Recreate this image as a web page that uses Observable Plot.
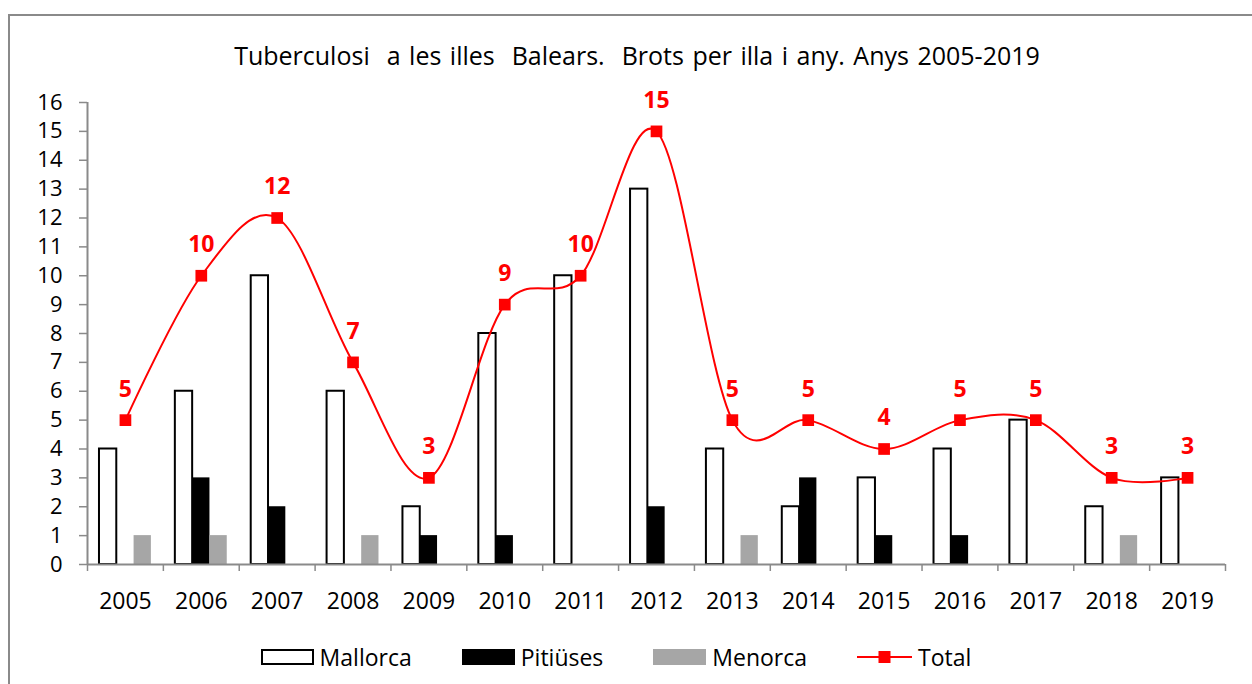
<!DOCTYPE html>
<html>
<head>
<meta charset="utf-8">
<script src="https://cdn.jsdelivr.net/npm/d3@7"></script>
<script src="https://cdn.jsdelivr.net/npm/@observablehq/plot@0.6"></script>
<style>
  body { margin: 0; background: #fff; }
  #wrap { position: relative; width: 1252px; height: 684px; overflow: hidden; background: #fff; font-family: 'Open Sans', sans-serif; color: #000; }
  #border { position: absolute; left: 8px; top: 14px; width: 1400px; height: 800px; border: 2px solid #8a8a8a; }
  #title { position: absolute; left: 0; top: 40px; width: 1274px; text-align: center; font-size: 25px; line-height: 30px; word-spacing: 2px; white-space: pre; }
  #chart { position: absolute; left: 0; top: 80px; }
  #legend { position: absolute; left: 0; top: 642px; width: 1232px; display: flex; justify-content: center; align-items: center; font-size: 23px; line-height: 30px; }
  .item { display: flex; align-items: center; margin: 0 25px; }
  .sw { width: 53px; height: 16px; box-sizing: border-box; margin-right: 6px; }
</style>
</head>
<body>
<div id="wrap">
  <div id="border"></div>
  <div id="title">Tuberculosi  a les illes  Balears.  Brots per illa i any. Anys 2005-2019</div>
  <div id="chart"></div>
  <div id="legend"></div>
</div>
<script>
const years = ["2005","2006","2007","2008","2009","2010","2011","2012","2013","2014","2015","2016","2017","2018","2019"];
const mallorca = [4, 6, 10, 6, 2, 8, 10, 13, 4, 2, 3, 4, 5, 2, 3];
const pitiuses = [0, 3, 2, 0, 1, 1, 0, 2, 0, 3, 1, 1, 0, 0, 0];
const menorca  = [1, 1, 0, 1, 0, 0, 0, 0, 1, 0, 0, 0, 0, 1, 0];
const total    = [5, 10, 12, 7, 3, 9, 10, 15, 5, 5, 4, 5, 5, 3, 3];
const seriesNames = ["Mallorca", "Pitiüses", "Menorca", "Total"];
const seriesColors = ["#ffffff", "#000000", "#a6a6a6", "#ff0000"];
const yTicks = [0, 1, 2, 3, 4, 5, 6, 7, 8, 9, 10, 11, 12, 13, 14, 15, 16];

const rows = years.map((y, i) => ({year: y, mallorca: mallorca[i], pitiuses: pitiuses[i], menorca: menorca[i], total: total[i]}));

const W = 1252, H = 532, mL = 87, mR = 27, mT = 22, mB = 48;
const bw = (W - mL - mR) / years.length;
const gw = 17.3;
const inset = (o) => ({insetLeft: bw / 2 + o - gw / 2, insetRight: bw / 2 - o - gw / 2});
const axisGray = "#8a8a8a";

const chart = Plot.plot({
  width: W, height: H,
  marginLeft: mL, marginRight: mR, marginTop: mT, marginBottom: mB,
  x: {type: "band", domain: years, padding: 0, round: false, label: null},
  y: {domain: [0, 16], label: null},
  style: {fontFamily: "'Open Sans', sans-serif", fontSize: "23px", color: "#000", background: "transparent", overflow: "visible"},
  marks: [
    Plot.barY(rows, {x: "year", y: "mallorca", fill: seriesColors[0], stroke: "#000", strokeWidth: 2, ...inset(-gw)}),
    Plot.barY(rows, {x: "year", y: "pitiuses", fill: seriesColors[1], ...inset(0)}),
    Plot.barY(rows, {x: "year", y: "menorca", fill: seriesColors[2], ...inset(gw)}),
    Plot.ruleY([0], {stroke: axisGray, strokeWidth: 2}),
    Plot.ruleX([years[0]], {stroke: axisGray, strokeWidth: 2, dx: -bw / 2}),
    Plot.axisY({ticks: yTicks, tickSize: 8, tickPadding: 17, stroke: axisGray, strokeWidth: 1.5, fill: "#000", fontSize: 22}),
    Plot.axisX({tickSize: 7, dx: -bw / 2, tickFormat: () => "", stroke: axisGray, strokeWidth: 1.5}),
    Plot.axisX({ticks: [years[years.length - 1]], tickSize: 7, dx: bw / 2, tickFormat: () => "", stroke: axisGray, strokeWidth: 1.5}),
    Plot.axisX({tickSize: 0, tickPadding: 28, fill: "#000"}),
    Plot.line(rows, {x: "year", y: "total", stroke: seriesColors[3], strokeWidth: 2, curve: "cardinal"}),
    Plot.dot(rows, {x: "year", y: "total", symbol: "square", r: 6.6, fill: seriesColors[3], stroke: "none"}),
    Plot.text(rows, {x: "year", y: "total", text: "total", dy: -31, fill: seriesColors[3], fontWeight: "bold", fontSize: 23})
  ]
});
document.getElementById("chart").appendChild(chart);

// legend
const legend = document.getElementById("legend");
seriesNames.forEach((name, i) => {
  const item = document.createElement("div");
  item.className = "item";
  let sw;
  if (i === 3) {
    sw = document.createElementNS("http://www.w3.org/2000/svg", "svg");
    sw.setAttribute("width", 55); sw.setAttribute("height", 16);
    sw.style.marginRight = "6px";
    sw.innerHTML = `<line x1="0" x2="55" y1="8" y2="8" stroke="${seriesColors[3]}" stroke-width="2"/><rect x="21.5" y="2" width="12" height="12" fill="${seriesColors[3]}"/>`;
  } else {
    sw = document.createElement("div");
    sw.className = "sw";
    sw.style.background = seriesColors[i];
    if (i === 0) sw.style.border = "2px solid #000";
  }
  const t = document.createElement("span");
  t.textContent = name;
  item.appendChild(sw);
  item.appendChild(t);
  legend.appendChild(item);
});
</script>
</body>
</html>
